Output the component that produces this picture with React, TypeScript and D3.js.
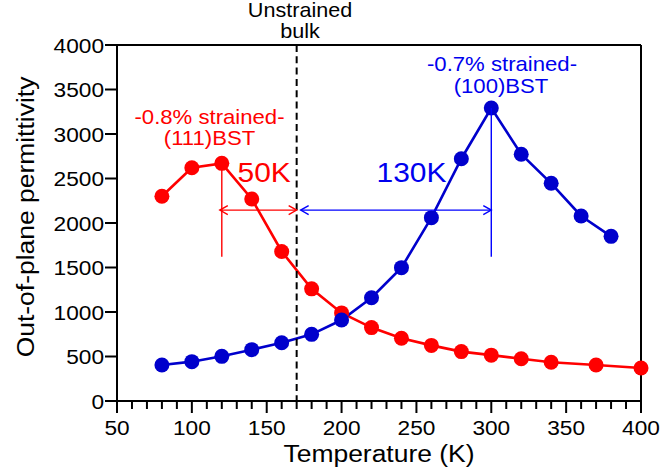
import React from "react";
import * as d3 from "d3";

// Out-of-plane permittivity vs temperature for two strained BST films
const tempsRed = [80, 100, 120, 140, 160, 180, 200, 220, 240, 260, 280, 300, 320, 340, 370, 400];
const permRed = [2300, 2620, 2670, 2270, 1680, 1260, 990, 825, 705, 625, 555, 515, 475, 435, 405, 370];

const tempsBlue = [80, 100, 120, 140, 160, 180, 200, 220, 240, 260, 280, 300, 320, 340, 360, 380];
const permBlue = [405, 442, 502, 577, 655, 749, 910, 1160, 1498, 2060, 2722, 3292, 2772, 2446, 2079, 1850];

const xMajorTicks = [50, 100, 150, 200, 250, 300, 350, 400];
const yTicks = [0, 500, 1000, 1500, 2000, 2500, 3000, 3500, 4000];

// Annotation anchors (temperature in K, permittivity)
const bulkTemp = 170;
const redPeakTemp = 120;
const bluePeakTemp = 300;
const arrowLevel = 2145;
const markerLineBottom = 1620;

const RED = "#ff0000";
const BLUE = "#0000cc";
const BLUE_TXT = "#0000ee";
const FONT = "'Liberation Sans', Arial, Helvetica, sans-serif";
const SX = 1.08;

const x = d3.scaleLinear().domain([50, 400]).range([117, 641]);
const y = d3.scaleLinear().domain([0, 4000]).range([401, 45]);

function T({ px, py, size, fill = "#000", anchor = "middle", sx = SX, rotate = 0, children }: any) {
  const tr = `translate(${px},${py})${rotate ? ` rotate(${rotate})` : ""} scale(${sx},1)`;
  return (
    <text transform={tr} fontSize={size} fill={fill} textAnchor={anchor} fontFamily={FONT}>
      {children}
    </text>
  );
}

function Arrow({ x1, x2, yy, color }: any) {
  const h = 8;
  const w = 4.5;
  return (
    <g stroke={color} strokeWidth={1.4} fill="none">
      <line x1={x1} x2={x2} y1={yy} y2={yy} />
      <path d={`M${x1 + h},${yy - w}L${x1},${yy}L${x1 + h},${yy + w}`} />
      <path d={`M${x2 - h},${yy - w}L${x2},${yy}L${x2 - h},${yy + w}`} />
    </g>
  );
}

export default function App() {
  const line = d3
    .line<[number, number]>()
    .x((d) => x(d[0]))
    .y((d) => y(d[1]));
  const redPts: [number, number][] = tempsRed.map((t, i) => [t, permRed[i]]);
  const bluePts: [number, number][] = tempsBlue.map((t, i) => [t, permBlue[i]]);
  const minorTicks = d3.range(50, 401, 10).filter((t) => t % 50 !== 0);

  const redPeak = permRed[tempsRed.indexOf(redPeakTemp)];
  const bluePeak = permBlue[tempsBlue.indexOf(bluePeakTemp)];
  const [x0, x1] = x.range();
  const [y0, y1] = y.range();

  return (
    <svg
      width={662}
      height={474}
      style={{ position: "absolute", left: 0, top: 0, background: "#fff" }}
    >
      {/* frame */}
      <g stroke="#000" strokeWidth={2} fill="none">
        <line x1={x0} x2={x1} y1={y1} y2={y1} />
        <line x1={x1} x2={x1} y1={y1} y2={y0} />
        <line x1={x0} x2={x0} y1={y1} y2={y0} />
        <line x1={x0} x2={x1} y1={y0} y2={y0} />
      </g>

      {/* x ticks */}
      <g stroke="#000" strokeWidth={2}>
        {xMajorTicks.map((t) => (
          <line key={"M" + t} x1={x(t)} x2={x(t)} y1={y0} y2={y0 + 12} />
        ))}
        {minorTicks.map((t) => (
          <line key={"m" + t} x1={x(t)} x2={x(t)} y1={y0} y2={y0 + 8} />
        ))}
      </g>
      {xMajorTicks.map((t) => (
        <T key={"xl" + t} px={x(t)} py={434.5} size={21}>
          {t}
        </T>
      ))}

      {/* y ticks */}
      <g stroke="#000" strokeWidth={2}>
        {yTicks.map((v) => (
          <line key={"y" + v} x1={x0 - 12} x2={x0} y1={y(v)} y2={y(v)} />
        ))}
      </g>
      {yTicks.map((v) => (
        <T key={"yl" + v} px={x0 - 13} py={y(v) + 7.5} size={21} anchor="end">
          {v}
        </T>
      ))}

      {/* axis titles */}
      <T px={(x0 + x1) / 2} py={462} size={24.5}>
        Temperature (K)
      </T>
      <T px={34} py={(y0 + y1) / 2 - 6} size={24.5} rotate={-90}>
        Out-of-plane permittivity
      </T>

      {/* series lines */}
      <path d={line(redPts) || ""} fill="none" stroke={RED} strokeWidth={2.6} />
      <path d={line(bluePts) || ""} fill="none" stroke={BLUE} strokeWidth={2.6} />

      {/* unstrained bulk reference */}
      <line
        x1={x(bulkTemp)}
        x2={x(bulkTemp)}
        y1={y1}
        y2={y0}
        stroke="#000"
        strokeWidth={2}
        strokeDasharray="7 4.3"
      />
      <T px={300} py={17} size={20}>
        Unstrained
      </T>
      <T px={300} py={38} size={20}>
        bulk
      </T>

      {/* markers */}
      {redPts.map((d, i) => (
        <circle key={"r" + i} cx={x(d[0])} cy={y(d[1])} r={7.5} fill={RED} />
      ))}
      {bluePts.map((d, i) => (
        <circle key={"b" + i} cx={x(d[0])} cy={y(d[1])} r={7.5} fill={BLUE} />
      ))}

      {/* peak shift annotations */}
      <line
        x1={x(redPeakTemp)}
        x2={x(redPeakTemp)}
        y1={y(redPeak)}
        y2={y(markerLineBottom)}
        stroke={RED}
        strokeWidth={1.4}
      />
      <line
        x1={x(bluePeakTemp)}
        x2={x(bluePeakTemp)}
        y1={y(bluePeak)}
        y2={y(markerLineBottom)}
        stroke="#0000ff"
        strokeWidth={1.4}
      />
      <Arrow x1={x(redPeakTemp) - 2} x2={x(bulkTemp)} yy={y(arrowLevel)} color={RED} />
      <Arrow x1={x(bulkTemp) + 4} x2={x(bluePeakTemp)} yy={y(arrowLevel)} color="#0000ff" />

      <T px={237.5} py={181.5} size={28} anchor="start" sx={1.07} fill={RED}>
        50K
      </T>
      <T px={446.5} py={181.5} size={28} anchor="end" sx={1.07} fill={BLUE_TXT}>
        130K
      </T>

      <T px={209.5} py={123.5} size={20.5} fill={RED}>
        -0.8% strained-
      </T>
      <T px={209.5} py={145} size={20.5} fill={RED}>
        (111)BST
      </T>
      <T px={502} py={71} size={20.5} fill={BLUE_TXT}>
        -0.7% strained-
      </T>
      <T px={501} py={92.5} size={20.5} fill={BLUE_TXT}>
        (100)BST
      </T>
    </svg>
  );
}
